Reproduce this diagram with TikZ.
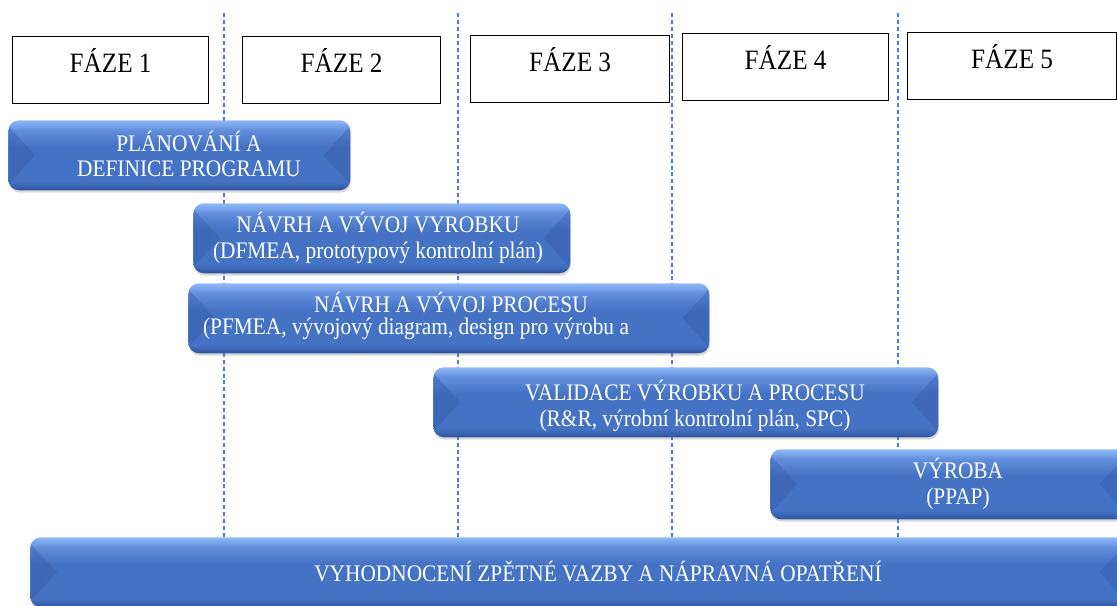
\documentclass[tikz,border=0pt]{standalone}
\usepackage{fontspec}
\setmainfont[FakeStretch=0.9]{Liberation Serif}
\usetikzlibrary{calc,shadows}
\definecolor{barlight}{RGB}{146,186,248}
\definecolor{barmid}{RGB}{98,142,220}
\definecolor{barblue}{RGB}{68,114,196}
\definecolor{bardark}{RGB}{50,88,164}
\definecolor{lineblue}{RGB}{78,124,212}
\pgfdeclareverticalshading{barshade}{100bp}{color(0bp)=(bardark); color(26bp)=(bardark); color(31bp)=(barblue); color(56bp)=(barblue); color(68bp)=(barmid); color(75bp)=(barlight); color(100bp)=(barlight)}
\tikzset{
  phase box/.style={draw=black, line width=0.9pt, fill=white, anchor=north west,
        inner sep=0pt, text depth=14pt, font=\fontsize{21}{24}\selectfont},
  phase line/.style={draw=lineblue, line width=0.8pt, dash pattern=on 3pt off 2.2pt},
  bar/.style={anchor=north west, inner sep=0pt, rounded corners=8pt, shading=barshade,
        drop shadow={opacity=0.3, shadow xshift=0.6pt, shadow yshift=-1.8pt}},
  bevel/.style={fill=bardark, opacity=0.35},
  bar text/.style={text=white, align=center, inner sep=0pt,
        font=\fontsize{17.8}{19}\selectfont}
}
\def\PhaseBox#1#2#3#4#5{%
  \node[phase box, minimum width=#4*0.75pt, minimum height=67*0.75pt] (#1) at (#2,#3) {#5};
}
\def\PhaseBar#1#2#3#4{%
  \node[bar, minimum width=#4*0.75pt, minimum height=70*0.75pt] (#1) at (#2,#3) {};
  \fill[bevel] ($(#1.north west)+(1,7)$) -- ($(#1.west)+(27,0)$) -- ($(#1.south west)+(1,-7)$) -- cycle;
  \fill[bevel] ($(#1.north east)+(-1,7)$) -- ($(#1.east)+(-27,0)$) -- ($(#1.south east)+(-1,-7)$) -- cycle;
}

\begin{document}
\begin{tikzpicture}[x=0.75pt, y=-0.75pt]
\useasboundingbox (0,0) rectangle (1117,606);
\clip (0,0) rectangle (1117,606);

% phase borders
\foreach \x in {224,458,672,898}
  \draw[phase line] (\x,13) -- (\x,540);

% phases
\PhaseBox{faze1}{12}{36}{196}{FÁZE 1}
\PhaseBox{faze2}{242}{36}{198}{FÁZE 2}
\PhaseBox{faze3}{470}{35}{199}{FÁZE 3}
\PhaseBox{faze4}{682}{33}{206}{FÁZE 4}
\PhaseBox{faze5}{907}{32}{209}{FÁZE 5}

% activities
\PhaseBar{plan}{8}{120}{342}
\node[bar text] (plant) at (189,154) {PLÁNOVÁNÍ A\\DEFINICE PROGRAMU};
\PhaseBar{vyrobek}{193}{203}{377}
\node[bar text] (vyrobekt) at (378,238) {NÁVRH A VÝVOJ VYROBKU\\(DFMEA, prototypový kontrolní plán)};
\PhaseBar{proces}{188}{283}{521}
\node[bar text] (procest) at (451,302) {NÁVRH A VÝVOJ PROCESU};
\node[bar text] (procesd) at (416,329) {(PFMEA, vývojový diagram, design pro výrobu a};
\PhaseBar{validace}{433}{367}{505}
\node[bar text] (validacet) at (695,406) {VALIDACE VÝROBKU A PROCESU\\(R\&R, výrobní kontrolní plán, SPC)};
\PhaseBar{vyroba}{770}{449}{356}
\node[bar text] (vyrobat) at (958,484) {VÝROBA\\(PPAP)};
\PhaseBar{zpetna}{30}{537}{1096}
\node[bar text] (zpetnat) at (598,571) {VYHODNOCENÍ ZPĚTNÉ VAZBY A NÁPRAVNÁ OPATŘENÍ};
\end{tikzpicture}
\end{document}
